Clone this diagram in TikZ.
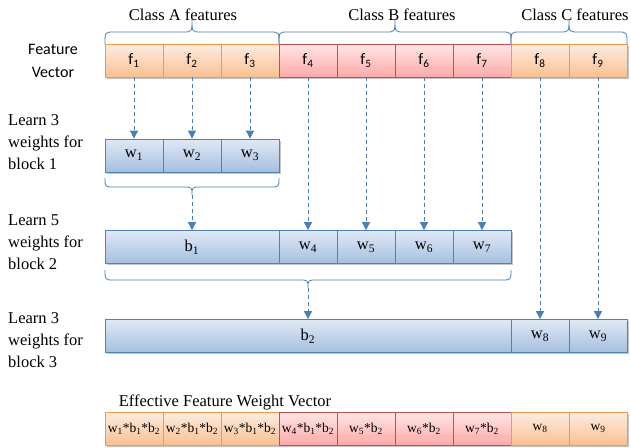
\documentclass[tikz,border=0pt]{standalone}
\usepackage{fontspec}
\setmainfont{Liberation Serif}
\newfontfamily\calib{Carlito}
\usetikzlibrary{arrows.meta,shadows}
\definecolor{obord}{HTML}{F79646}
\definecolor{otop}{HTML}{FDEDE0}
\definecolor{obot}{HTML}{FAC090}
\definecolor{rbord}{HTML}{C0504D}
\definecolor{rtop}{HTML}{FFE6E6}
\definecolor{rbot}{HTML}{FFA9A9}
\definecolor{bbord}{HTML}{4F81BD}
\definecolor{btop}{HTML}{E0E9F5}
\definecolor{bbot}{HTML}{A5BFE0}
\definecolor{lnc}{HTML}{4A7EBB}
\newcommand{\ofbrace}[5]{\draw[brc] (#1,#3) .. controls (#1,#4) .. ({#1+9},#4) -- ({(#1+#2)/2-9},#4) .. controls ({(#1+#2)/2},#4) .. ({(#1+#2)/2},#5) .. controls ({(#1+#2)/2},#4) .. ({(#1+#2)/2+9},#4) -- ({#2-9},#4) .. controls (#2,#4) .. (#2,#3);}
\tikzset{
  cell/.style={draw, line width=0.8pt, minimum height=33pt, minimum width=58pt, inner sep=0pt,
    drop shadow={shadow xshift=1.5pt,shadow yshift=-1.5pt,fill=black!50,opacity=0.45}},
  ocell/.style={cell, draw=obord, top color=otop, bottom color=obot},
  rcell/.style={cell, draw=rbord, top color=rtop, bottom color=rbot},
  bcell/.style={cell, draw=bbord, top color=btop, bottom color=bbot},
  brc/.style={draw=lnc, line width=0.8pt},
  darr/.style={draw=lnc, line width=0.9pt, dash pattern=on 4pt off 3pt, -{Triangle[width=8pt,length=8pt]}},
  ftxt/.style={font=\calib\fontsize{16}{19}\selectfont},
  wtxt/.style={font=\fontsize{16.5}{19}\selectfont},
  etxt/.style={font=\fontsize{13.5}{16}\selectfont},
  lbl/.style={font=\fontsize{16.5}{22}\selectfont, align=left, anchor=north west, inner sep=0pt},
  ttl/.style={font=\fontsize{16.5}{20}\selectfont, inner sep=0pt}
}
\begin{document}
\begin{tikzpicture}[x=1pt,y=-1pt]
\useasboundingbox (0,0) rectangle (631,447);
% feature row
\node[ocell,ftxt] (f1) at (134,60.5) {f\textsubscript{1}};
\node[ocell,ftxt] (f2) at (192,60.5) {f\textsubscript{2}};
\node[ocell,ftxt] (f3) at (250,60.5) {f\textsubscript{3}};
\node[rcell,ftxt] (f4) at (308,60.5) {f\textsubscript{4}};
\node[rcell,ftxt] (f5) at (366,60.5) {f\textsubscript{5}};
\node[rcell,ftxt] (f6) at (424,60.5) {f\textsubscript{6}};
\node[rcell,ftxt] (f7) at (482,60.5) {f\textsubscript{7}};
\node[ocell,ftxt] (f8) at (540,60.5) {f\textsubscript{8}};
\node[ocell,ftxt] (f9) at (598,60.5) {f\textsubscript{9}};
% labels
\node[ftxt, align=center, inner sep=0pt, font=\calib\fontsize{16}{23}\selectfont] (fv) at (53,61) {Feature\\Vector};
\node[lbl] (l1) at (8,114) {Learn 3\\weights for\\block 1};
\node[lbl] (l2) at (8,214) {Learn 5\\weights for\\block 2};
\node[lbl] (l3) at (8,312) {Learn 3\\weights for\\block 3};
\node[ttl] (ca) at (183,15) {Class A features};
\node[ttl] (cb) at (402,15) {Class B features};
\node[ttl] (cc) at (575,15) {Class C features};
% top braces
\ofbrace{105}{279}{44}{32}{19}
\ofbrace{279}{511}{44}{32}{19}
\ofbrace{511}{627}{44}{32}{19}
% block 1
\node[bcell,wtxt] (w1) at (134,155.5) {w\textsubscript{1}};
\node[bcell,wtxt] (w2) at (192,155.5) {w\textsubscript{2}};
\node[bcell,wtxt] (w3) at (250,155.5) {w\textsubscript{3}};
% block 2
\node[bcell,wtxt,minimum width=174pt] (b1) at (192,247) {b\textsubscript{1}};
\node[bcell,wtxt] (w4) at (308,247) {w\textsubscript{4}};
\node[bcell,wtxt] (w5) at (366,247) {w\textsubscript{5}};
\node[bcell,wtxt] (w6) at (424,247) {w\textsubscript{6}};
\node[bcell,wtxt] (w7) at (482,247) {w\textsubscript{7}};
% block 3
\node[bcell,wtxt,minimum width=406pt] (b2) at (308,336) {b\textsubscript{2}};
\node[bcell,wtxt] (w8) at (540,336) {w\textsubscript{8}};
\node[bcell,wtxt] (w9) at (598,336) {w\textsubscript{9}};
% lower braces
\ofbrace{105}{279}{178}{187}{195}
\coordinate (t1) at (192,195);
\ofbrace{105}{511}{270}{280}{288}
\coordinate (t2) at (308,288);
% arrows
\foreach \a/\b in {f1/w1,f2/w2,f3/w3,f4/w4,f5/w5,f6/w6,f7/w7,f8/w8,f9/w9}
  \draw[darr] (\a.south) -- (\b.north);
\draw[darr] (t1) -- (b1.north);
\draw[darr] (t2) -- (b2.north);
% effective vector
\node[ttl] (ev) at (225,402) {Effective Feature Weight Vector};
\node[ocell,etxt] (e1) at (134,428.5) {w\textsubscript{1}*b\textsubscript{1}*b\textsubscript{2}};
\node[ocell,etxt] (e2) at (192,428.5) {w\textsubscript{2}*b\textsubscript{1}*b\textsubscript{2}};
\node[ocell,etxt] (e3) at (250,428.5) {w\textsubscript{3}*b\textsubscript{1}*b\textsubscript{2}};
\node[rcell,etxt] (e4) at (308,428.5) {w\textsubscript{4}*b\textsubscript{1}*b\textsubscript{2}};
\node[rcell,etxt] (e5) at (366,428.5) {w\textsubscript{5}*b\textsubscript{2}};
\node[rcell,etxt] (e6) at (424,428.5) {w\textsubscript{6}*b\textsubscript{2}};
\node[rcell,etxt] (e7) at (482,428.5) {w\textsubscript{7}*b\textsubscript{2}};
\node[ocell,etxt] (e8) at (540,428.5) {w\textsubscript{8}};
\node[ocell,etxt] (e9) at (598,428.5) {w\textsubscript{9}};
\end{tikzpicture}
\end{document}
